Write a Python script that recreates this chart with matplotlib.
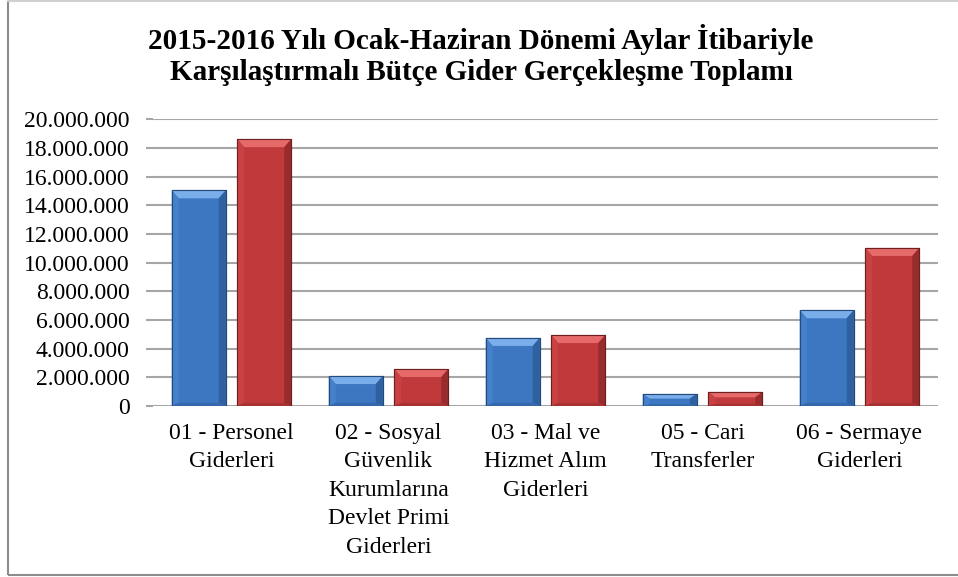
import matplotlib
matplotlib.use("Agg")
import matplotlib.pyplot as plt
from matplotlib.patches import Polygon, Rectangle
from matplotlib.ticker import FuncFormatter
import numpy as np

categories = ["01 - Personel\nGiderleri",
              "02 - Sosyal\nGüvenlik\nKurumlarına\nDevlet Primi\nGiderleri",
              "03 - Mal ve\nHizmet Alım\nGiderleri",
              "05 - Cari\nTransferler",
              "06 - Sermaye\nGiderleri"]
values_2015 = [15050000, 2090000, 4750000, 840000, 6680000]
values_2016 = [18620000, 2580000, 4950000, 980000, 11030000]
title = "2015-2016 Yılı Ocak-Haziran Dönemi Aylar İtibariyle\nKarşılaştırmalı Bütçe Gider Gerçekleşme Toplamı"

serif = ['Liberation Serif', 'DejaVu Serif']
plt.rcParams['font.family'] = serif

W, H = 958, 577
fig = plt.figure(figsize=(W / 100, H / 100), dpi=100)
left, right, bottom_px, top_px = 153, 938, 406, 119.4
ax = fig.add_axes([left / W, (H - bottom_px) / H, (right - left) / W, (bottom_px - top_px) / H])

x = np.arange(len(categories))
bw = 0.344
off = 0.2086
styles = [
    dict(face="#3D77C2", top="#79AEEA", lft="#4580CB", rgt="#2F60A0", bot="#3568AD", edge="#24497A"),
    dict(face="#C0393B", top="#E66A69", lft="#C84244", rgt="#982C2D", bot="#A93233", edge="#6E1F20"),
]
bars1 = ax.bar(x - off, values_2015, bw, color=styles[0]["face"], edgecolor=styles[0]["edge"], linewidth=0.8, zorder=3)
bars2 = ax.bar(x + off, values_2016, bw, color=styles[1]["face"], edgecolor=styles[1]["edge"], linewidth=0.8, zorder=3)

ax.set_xlim(-0.5, len(categories) - 0.5)
ax.set_ylim(0, 20000000)
ax.set_yticks(np.arange(0, 20000001, 2000000))

# bevel decoration derived from bar geometry
px_x = (len(categories)) / (right - left)
px_y = 20000000 / (bottom_px - top_px)
for bars, st in ((bars1, styles[0]), (bars2, styles[1])):
    for b in bars:
        x0, w, h = b.get_x(), b.get_width(), b.get_height()
        x1 = x0 + w
        dy = min(8 * px_y, h / 2.6)
        dx = min(7 * px_x, w / 4)
        polys = [
            ([(x0, h), (x1, h), (x1 - dx, h - dy), (x0 + dx, h - dy)], st["top"]),
            ([(x0, 0), (x0, h), (x0 + dx, h - dy), (x0 + dx, dy * 0.4)], st["lft"]),
            ([(x1, 0), (x1, h), (x1 - dx, h - dy), (x1 - dx, dy * 0.4)], st["rgt"]),
            ([(x0, 0), (x1, 0), (x1 - dx, dy * 0.4), (x0 + dx, dy * 0.4)], st["bot"]),
        ]
        for pts, c in polys:
            ax.add_patch(Polygon(pts, closed=True, facecolor=c, edgecolor="none", zorder=4))
        ax.add_patch(Rectangle((x0, 0), w, h, facecolor="none", edgecolor=st["edge"], linewidth=0.8, zorder=5))

ax.yaxis.set_major_formatter(FuncFormatter(lambda v, p: f"{int(v):,}".replace(",", ".")))
ax.set_xticks(x)
ax.set_xticklabels(categories, fontsize=17, linespacing=1.47, family=serif)
ax.tick_params(axis='x', length=0, pad=12)
ax.tick_params(axis='y', length=5, width=1.5, color="#A6A6A6", labelsize=17, pad=12)
for lbl in ax.get_yticklabels():
    lbl.set_family(serif)
for s in ax.spines.values():
    s.set_visible(False)
ax.grid(axis='y', color="#A6A6A6", linewidth=1.5)
ax.set_axisbelow(True)

fig.text(481 / W, 1 - 55 / H, title, ha='center', va='center', fontsize=21, fontweight='bold',
         linespacing=1.22, family=serif)

fig.add_artist(Rectangle((7.5 / W, 2 / H), (W + 60) / W, (H + 10) / H, transform=fig.transFigure,
                         facecolor="none", edgecolor="#8C8C8C", linewidth=1.5, clip_on=False))
fig.add_artist(plt.Line2D([7.5 / W, 1], [1 - 0.5 / H, 1 - 0.5 / H], transform=fig.transFigure,
                          color="#D0D0D0", linewidth=1.5))

fig.savefig("out.png", dpi=100)
